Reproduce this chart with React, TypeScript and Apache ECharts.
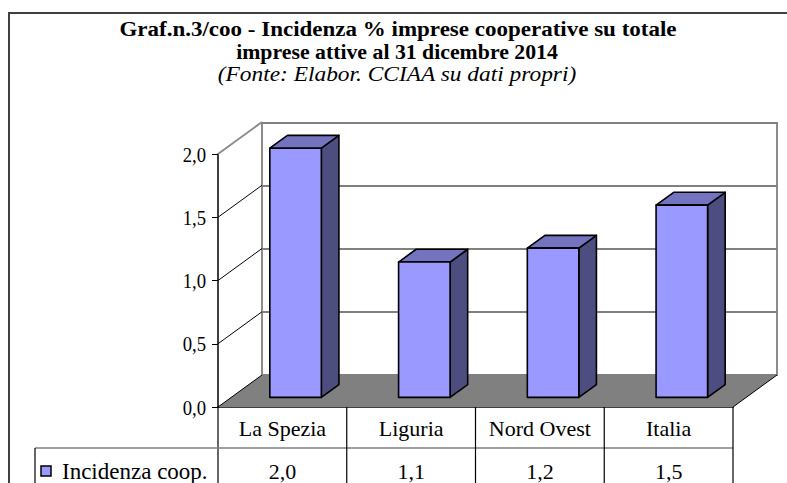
import React, { useEffect, useRef } from "react";
import * as echarts from "echarts";

const categories = ["La Spezia", "Liguria", "Nord Ovest", "Italia"];
const values = [1.97, 1.07, 1.18, 1.52];
const yTicks = [0, 0.5, 1, 1.5, 2];
const seriesName = "Incidenza coop.";
const titleLines = [
  "Graf.n.3/coo - Incidenza % imprese cooperative su totale",
  "imprese attive al 31 dicembre 2014",
];
const subTitle = "(Fonte: Elabor. CCIAA su dati propri)";

const FONT = "Liberation Serif, Times New Roman, serif";
const DX = 44;
const DY = -32;
const fmt = (v: number) => v.toFixed(1).replace(".", ",");

export default function App() {
  const ref = useRef<HTMLDivElement>(null);
  useEffect(() => {
    if (!ref.current) return;
    const chart = echarts.init(ref.current, undefined, { renderer: "svg" });

    const centerText = (text: string, x: number, y: number, size: number, sx: number, extra: any = {}) => ({
      type: "text", x, y, scaleX: sx, z: 100,
      style: {
        text, fill: "#000", fontSize: size, fontFamily: FONT,
        textAlign: "center", align: "center", textVerticalAlign: "middle", verticalAlign: "middle",
        ...extra,
      },
    });

    const option: any = {
      animation: false,
      backgroundColor: "#fff",
      grid: [
        { left: 218, right: 54, top: 154, bottom: 76 },
        {
          left: 262, right: 10, top: 123, bottom: 108, show: true,
          backgroundColor: "#fff", borderColor: "#8c8c8c", borderWidth: 2,
        },
      ],
      xAxis: [
        {
          type: "category", data: categories, gridIndex: 0,
          axisLine: { show: true, lineStyle: { color: "#000", width: 1.5 } },
          axisTick: { show: false },
          axisLabel: { interval: 0, hideOverlap: false, margin: 10, fontSize: 22, fontFamily: FONT, color: "#000" },
        },
        { type: "category", data: categories, gridIndex: 1, show: false },
      ],
      yAxis: [
        {
          type: "value", min: 0, max: 2, interval: 0.5, gridIndex: 0,
          axisLine: { show: true, lineStyle: { color: "#000", width: 1.5 } },
          axisTick: { show: true, length: 6, lineStyle: { color: "#000" } },
          splitLine: { show: false },
          axisLabel: { show: false },
        },
        {
          type: "value", min: 0, max: 2, interval: 0.5, gridIndex: 1,
          axisLine: { show: false }, axisTick: { show: false }, axisLabel: { show: false },
          splitLine: { show: true, lineStyle: { color: "#808080", width: 2 } },
        },
      ],
      graphic: [
        {
          type: "rect", shape: { x: 9, y: 13, width: 900, height: 600 },
          style: { fill: "none", stroke: "#404040", lineWidth: 2 }, z: 100,
        },
        centerText(titleLines[0], 398, 30, 20, 1.15, { fontWeight: "bold" }),
        centerText(titleLines[1], 397, 52, 20, 1.09, { fontWeight: "bold" }),
        centerText(subTitle, 397, 75, 20, 1.17, { fontStyle: "italic" }),
        {
          type: "rect", shape: { x: 41, y: 466, width: 10, height: 10 },
          style: { fill: "#9999FF", stroke: "#000", lineWidth: 1.5 }, z: 100,
        },
        {
          type: "text", x: 62, y: 471, z: 100,
          style: {
            text: seriesName, fill: "#000", fontSize: 23, fontFamily: FONT,
            textVerticalAlign: "middle", verticalAlign: "middle",
          },
        },
      ],
      series: [
        {
          type: "custom", name: "walls", xAxisIndex: 0, yAxisIndex: 0, z: 3,
          clip: false,
          data: yTicks.map((v) => [0, v]),
          renderItem: (params: any, api: any) => {
            const cs = params.coordSys;
            const v = api.value(1);
            const y = api.coord([0, v])[1];
            const x = cs.x;
            const children: any[] = [];
            if (v === 0) {
              const yb = cs.y + cs.height;
              const xr = cs.x + cs.width;
              children.push({
                type: "polygon",
                shape: { points: [[x, yb], [xr, yb], [xr + DX, yb + DY], [x + DX, yb + DY]] },
                style: { fill: "#808080", stroke: "none" },
              });
              children.push({
                type: "line", shape: { x1: xr, y1: yb, x2: xr + DX, y2: yb + DY },
                style: { stroke: "#000", lineWidth: 1 },
              });
            }
            children.push({
              type: "line", shape: { x1: x, y1: y, x2: x + DX, y2: y + DY },
              style: { stroke: v === 2 ? "#8c8c8c" : "#000", lineWidth: v === 2 ? 2 : 1 },
            });
            children.push({
              type: "text", x: x - 12, y, scaleX: 0.85,
              style: {
                text: fmt(v), fill: "#000", fontSize: 22, fontFamily: FONT,
                textAlign: "right", align: "right", textVerticalAlign: "middle", verticalAlign: "middle",
              },
            });
            return { type: "group", children };
          },
        },
        {
          type: "custom", name: seriesName, xAxisIndex: 0, yAxisIndex: 0, z: 5,
          clip: false,
          data: values.map((v, i) => [i, v]),
          renderItem: (params: any, api: any) => {
            const i = api.value(0);
            const top = api.coord([i, api.value(1)]);
            const base = api.coord([i, 0]);
            const bw = api.size([1, 0])[0];
            const w = bw * 0.4;
            const fx = 0.3 * DX, fy = 0.3 * DY;
            const dx = 0.4 * DX, dy = 0.4 * DY;
            const x0 = top[0] - w / 2 + fx;
            const x1 = x0 + w;
            const yT = top[1] + fy;
            const yB = base[1] + fy;
            const st = { stroke: "#000", lineWidth: 1.6, lineJoin: "round" };
            return {
              type: "group",
              children: [
                {
                  type: "polygon",
                  shape: { points: [[x1, yT], [x1 + dx, yT + dy], [x1 + dx, yB + dy], [x1, yB]] },
                  style: { fill: "#4D4D80", ...st },
                },
                {
                  type: "polygon",
                  shape: { points: [[x0, yT], [x1, yT], [x1 + dx, yT + dy], [x0 + dx, yT + dy]] },
                  style: { fill: "#7373BF", ...st },
                },
                {
                  type: "rect",
                  shape: { x: x0, y: yT, width: w, height: yB - yT },
                  style: { fill: "#9999FF", ...st },
                },
              ],
            };
          },
        },
        {
          type: "custom", name: "table", xAxisIndex: 0, yAxisIndex: 0, z: 6,
          clip: false,
          data: values.map((v, i) => [i, v]),
          renderItem: (params: any, api: any) => {
            const cs = params.coordSys;
            const i = api.value(0);
            const c = api.coord([i, 0]);
            const bw = api.size([1, 0])[0];
            const yb = cs.y + cs.height;
            const xl = c[0] - bw / 2;
            const children: any[] = [
              {
                type: "line", shape: { x1: xl, y1: yb, x2: xl, y2: yb + 100 },
                style: { stroke: "#000", lineWidth: 1.2 },
              },
              {
                type: "text", x: c[0], y: yb + 64,
                style: {
                  text: fmt(api.value(1)), fill: "#000", fontSize: 22, fontFamily: FONT,
                  textAlign: "center", align: "center", textVerticalAlign: "middle", verticalAlign: "middle",
                },
              },
            ];
            if (i === categories.length - 1) {
              children.push({
                type: "line", shape: { x1: xl + bw, y1: yb, x2: xl + bw, y2: yb + 100 },
                style: { stroke: "#000", lineWidth: 1.2 },
              });
            }
            if (i === 0) {
              children.push({
                type: "line", shape: { x1: 35, y1: yb + 41, x2: cs.x + cs.width, y2: yb + 41 },
                style: { stroke: "#808080", lineWidth: 1.5 },
              });
              children.push({
                type: "line", shape: { x1: 35, y1: yb + 41, x2: 35, y2: yb + 100 },
                style: { stroke: "#000", lineWidth: 1.2 },
              });
            }
            return { type: "group", children };
          },
        },
      ],
    };
    chart.setOption(option);
    return () => chart.dispose();
  }, []);
  return (
    <div
      ref={ref}
      style={{ position: "fixed", left: 0, top: 0, width: 787, height: 483, background: "#fff" }}
    />
  );
}
